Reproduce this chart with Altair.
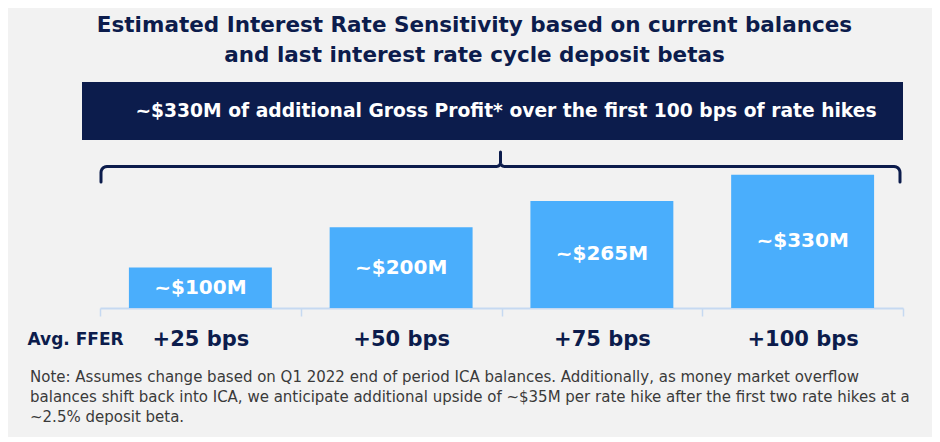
import math
import altair as alt
import pandas as pd

# ---------------- data ----------------
categories = ["+25 bps", "+50 bps", "+75 bps", "+100 bps"]
values = [100, 200, 265, 330]
bar_labels = ["~$100M", "~$200M", "~$265M", "~$330M"]

title_lines = [
    "Estimated Interest Rate Sensitivity based on current balances",
    "and last interest rate cycle deposit betas",
]
banner_text = "~$330M of additional Gross Profit* over the first 100 bps of rate hikes"
axis_title = "Avg. FFER"
note_lines = [
    "Note: Assumes change based on Q1 2022 end of period ICA balances. Additionally, as money market overflow",
    "balances shift back into ICA, we anticipate additional upside of ~$35M per rate hike after the first two rate hikes at a",
    "~2.5% deposit beta.",
]

# ---------------- style ----------------
NAVY = "#0c1c4c"
BAR = "#4aaefc"
BG = "#f2f2f2"
AXIS = "#c6d9f1"
NOTE = "#3a3a3a"
FONT = "DejaVu Sans"

W, H = 803, 158
Y_MAX = 391

df = pd.DataFrame({"cat": categories, "value": values, "label": bar_labels})

x_enc = alt.X(
    "cat:N",
    sort=categories,
    scale=alt.Scale(paddingInner=0, paddingOuter=0),
    axis=alt.Axis(
        title=axis_title,
        titleFont=FONT,
        titleFontSize=17,
        titleFontWeight="bold",
        titleColor=NAVY,
        titleAnchor="start",
        titleAlign="left",
        titleBaseline="middle",
        titleAngle=0,
        titleX=-73,
        titleY=31,
        labelFont=FONT,
        labelFontSize=21,
        labelFontWeight="bold",
        labelColor=NAVY,
        labelAngle=0,
        labelBaseline="middle",
        labelPadding=23,
        tickBand="extent",
        tickSize=8,
        tickColor=AXIS,
        tickWidth=1.5,
        domainColor=AXIS,
        domainWidth=2,
        grid=False,
    ),
)
y_scale = alt.Scale(domain=[0, Y_MAX], nice=False, zero=True)
y_enc = alt.Y("value:Q", scale=y_scale, axis=None)

bars = alt.Chart(df).mark_bar(color=BAR, width=alt.RelativeBandSize(0.712)).encode(x=x_enc, y=y_enc)

bar_text = (
    alt.Chart(df)
    .transform_calculate(mid="datum.value / 2")
    .mark_text(color="white", font=FONT, fontWeight="bold", fontSize=20, baseline="middle", align="center")
    .encode(
        x=alt.X("cat:N", sort=categories),
        y=alt.Y("mid:Q", scale=y_scale, axis=None),
        text="label:N",
    )
)

banner_df = pd.DataFrame({"t": [banner_text]})
banner = alt.Chart(banner_df).mark_rect(color=NAVY).encode(
    x=alt.value(-18), x2=alt.value(W), y=alt.value(-68), y2=alt.value(-10)
)
banner_txt = alt.Chart(banner_df).mark_text(
    color="white", font=FONT, fontWeight="bold", fontSize=18.7, align="center", baseline="middle"
).encode(x=alt.value(406), y=alt.value(-39), text="t:N")

# curly brace decoration spanning the whole axis
line_y, tip_y, r, r2 = 16.5, 2.0, 6.0, 4.0
mid = W / 2 - 1
pts = [(1.0, 32.0)]
for k in range(0, 7):
    t = math.radians(15 * k)
    pts.append((1 + r - r * math.cos(t), line_y + r - r * math.sin(t)))
for k in range(0, 7):
    t = math.radians(15 * k)
    pts.append((mid - r2 + r2 * math.sin(t), line_y - r2 + r2 * math.cos(t)))
pts.append((mid, tip_y))
right_half = [(2 * mid - px, py) for px, py in reversed(pts)]
pts = pts + right_half
brace_df = pd.DataFrame({"bx": [p[0] for p in pts], "by": [p[1] for p in pts], "i": list(range(len(pts)))})
brace = alt.Chart(brace_df).mark_line(
    color=NAVY, strokeWidth=3, strokeCap="round", strokeJoin="round"
).encode(
    x=alt.X("bx:Q", scale=None, axis=None),
    y=alt.Y("by:Q", scale=None, axis=None),
    order="i:Q",
)

note = alt.Chart(pd.DataFrame({"n": [0]})).mark_text(
    font=FONT, fontSize=15, color=NOTE, align="left", baseline="alphabetic", lineHeight=20, text=note_lines
).encode(x=alt.value(-70), y=alt.value(232))

chart = (
    alt.layer(banner, banner_txt, brace, bars, bar_text, note)
    .properties(
        width=W,
        height=H,
        background=BG,
        padding={"left": 92, "top": 142, "right": 29, "bottom": 129},
        autosize=alt.AutoSizeParams(type="none"),
        title=alt.Title(
            title_lines,
            font=FONT,
            fontSize=21.5,
            fontWeight="bold",
            color=NAVY,
            anchor="middle",
            lineHeight=30,
            offset=16,
            dx=-27,
        ),
    )
    .configure_view(stroke=None)
)

chart.save("out.html", embed_options={"renderer": "svg", "actions": False})
